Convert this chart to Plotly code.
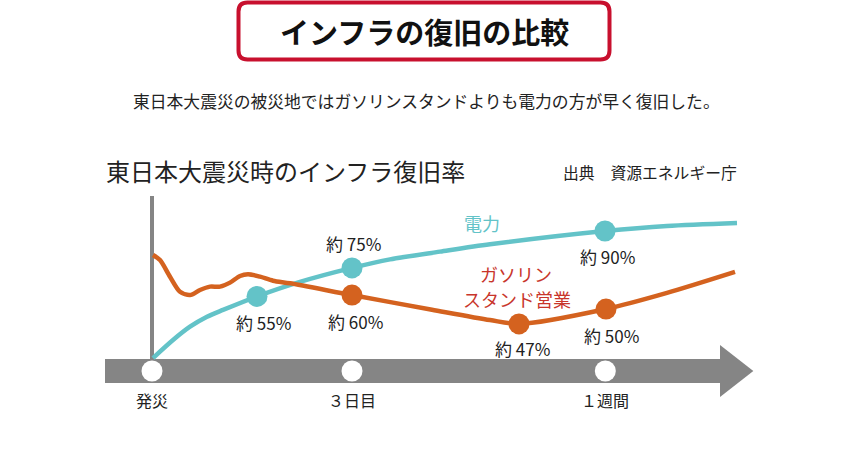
import plotly.graph_objects as go

# ---------------- data (schematic timeline) ----------------
# x: position along the time arrow in days (0 = 発災), y: drawn recovery level (schematic)
TICK_LABELS = ["発災", "３日目", "１週間"]
TICK_POS = [0, 3, 6.8]

POWER_X = [0.015, 0.315, 0.57, 0.825, 1.065, 1.575, 2.22, 3.0, 3.57, 4.32, 5.07, 6.795, 7.725, 8.775]
POWER_Y = [7.4, 17.7, 25.3, 31.0, 34.9, 42.6, 50.9, 58.9, 63.8, 68.2, 72.4, 80.0, 82.9, 84.6]
POWER_MK_X = [1.575, 3.0, 6.795]
POWER_MK_Y = [42.6, 58.9, 80.0]
POWER_LABELS = ["約 55%", "約 75%", "約 90%"]

GAS_X = [0.015, 0.12, 0.27, 0.42, 0.57, 0.72, 0.87, 1.02, 1.17, 1.32, 1.44, 1.62, 1.815,
         2.07, 3.0, 4.2, 5.07, 5.505, 6.81, 7.725, 8.745]
GAS_Y = [66.3, 63.4, 53.9, 45.3, 43.4, 46.3, 48.2, 48.2, 50.5, 54.3, 55.3, 53.9, 51.6,
         50.1, 43.4, 35.0, 29.1, 26.9, 35.4, 44.6, 56.6]
GAS_MK_X = [3.0, 5.505, 6.81]
GAS_MK_Y = [43.4, 26.9, 35.4]
GAS_LABELS = ["約 60%", "約 47%", "約 50%"]

TITLE = "インフラの復旧の比較"
SUBTITLE = "東日本大震災の被災地ではガソリンスタンドよりも電力の方が早く復旧した。"
CHART_TITLE = "東日本大震災時のインフラ復旧率"
SOURCE = "出典　資源エネルギー庁"
POWER_NAME = "電力"
GAS_NAME_LINES = ["ガソリン", "スタンド営業"]

# ---------------- styles ----------------
W, H = 860, 450
FONT = "Noto Sans CJK JP"
TEAL = "#63c3c8"
ORANGE = "#d4621f"
GAS_RED = "#c8352b"
GREY = "#858585"
CRIMSON = "#c8102e"
TXT = "#222222"

POWER_LABEL_SHIFT = [(6, -26.5), (1.5, 24), (2, -25.7)]
GAS_LABEL_SHIFT = [(3.5, -26), (3.5, -25), (5.7, -26)]

fig = go.Figure()

fig.add_trace(go.Scatter(x=POWER_X, y=POWER_Y, mode="lines",
                         line=dict(color=TEAL, width=4.5, shape="spline", smoothing=0.8),
                         hoverinfo="skip"))
fig.add_trace(go.Scatter(x=GAS_X, y=GAS_Y, mode="lines",
                         line=dict(color=ORANGE, width=4.5, shape="spline", smoothing=0.8),
                         hoverinfo="skip"))
fig.add_trace(go.Scatter(x=POWER_MK_X, y=POWER_MK_Y, mode="markers",
                         marker=dict(color=TEAL, size=21, line=dict(width=0)), hoverinfo="skip"))
fig.add_trace(go.Scatter(x=GAS_MK_X, y=GAS_MK_Y, mode="markers",
                         marker=dict(color=ORANGE, size=21, line=dict(width=0)), hoverinfo="skip"))
# white circles on the time arrow
fig.add_trace(go.Scatter(x=TICK_POS, y=[0] * len(TICK_POS), mode="markers",
                         marker=dict(color="white", size=21, line=dict(width=0)), hoverinfo="skip"))

annotations = []
for x, y, t, (dx, dy) in zip(POWER_MK_X, POWER_MK_Y, POWER_LABELS, POWER_LABEL_SHIFT):
    annotations.append(dict(x=x, y=y, xref="x", yref="y", text=t, showarrow=False,
                            xshift=dx, yshift=dy, font=dict(family=FONT, size=17, color=TXT)))
for x, y, t, (dx, dy) in zip(GAS_MK_X, GAS_MK_Y, GAS_LABELS, GAS_LABEL_SHIFT):
    annotations.append(dict(x=x, y=y, xref="x", yref="y", text=t, showarrow=False,
                            xshift=dx, yshift=dy, font=dict(family=FONT, size=17, color=TXT)))
for x, t in zip(TICK_POS, TICK_LABELS):
    annotations.append(dict(x=x, y=0, xref="x", yref="y", text=t, showarrow=False,
                            yshift=-29, font=dict(family=FONT, size=16, color=TXT)))

annotations.append(dict(x=4.95, y=84.6, xref="x", yref="y", text=POWER_NAME, showarrow=False,
                        font=dict(family=FONT, size=18, color=TEAL)))
for (gx, gy), t in zip([(5.46, 55.4), (5.475, 41.4)], GAS_NAME_LINES):
    annotations.append(dict(x=gx, y=gy, xref="x", yref="y", text=t, showarrow=False,
                            borderpad=0, font=dict(family=FONT, size=18, color=GAS_RED)))


def P(px, py):
    """pixel -> paper coordinates"""
    return px / W, 1 - py / H


def ann_px(px, py, text, size, color=TXT, xanchor="center"):
    x, y = P(px, py)
    return dict(x=x, y=y, xref="paper", yref="paper", text=text, showarrow=False,
                xanchor=xanchor, yanchor="middle", font=dict(family=FONT, size=size, color=color))


annotations.append(ann_px(424, 31, "<b>" + TITLE + "</b>", 29, "#111111"))
annotations.append(ann_px(426, 101, SUBTITLE, 16.8))
annotations.append(ann_px(104, 170, CHART_TITLE, 24, xanchor="left"))
annotations.append(ann_px(561, 172, SOURCE, 15.8, xanchor="left"))

# rounded title box
l, r, t, b, rad = 238.5, 609.5, 2.5, 59.5, 9


def pt(px, py):
    x, y = P(px, py)
    return f"{x:.5f},{y:.5f}"


box_path = (f"M {pt(l + rad, t)} L {pt(r - rad, t)} Q {pt(r, t)} {pt(r, t + rad)} "
            f"L {pt(r, b - rad)} Q {pt(r, b)} {pt(r - rad, b)} L {pt(l + rad, b)} "
            f"Q {pt(l, b)} {pt(l, b - rad)} L {pt(l, t + rad)} Q {pt(l, t)} {pt(l + rad, t)} Z")

shapes = [
    dict(type="path", xref="paper", yref="paper", path=box_path,
         line=dict(color=CRIMSON, width=4), fillcolor="white", layer="below"),
    # vertical axis line at 発災
    dict(type="line", xref="x", yref="y", x0=0, x1=0, y0=0, y1=100,
         line=dict(color=GREY, width=4), layer="below"),
    # time arrow body
    dict(type="rect", xref="x", yref="y", x0=-0.705, x1=8.53, y0=-6.86, y1=6.86,
         fillcolor=GREY, line=dict(width=0), layer="below"),
    # arrow head
    dict(type="path", xref="x", yref="y", path="M 8.52,14.9 L 9.02,0 L 8.52,-14.9 Z",
         fillcolor=GREY, line=dict(width=0), layer="below"),
]

# axes: 66.667 px per day with 発災 at x=152; 1.75 px per level unit with the arrow at y=371
fig.update_layout(
    width=W, height=H, autosize=False,
    margin=dict(l=0, r=0, t=0, b=0, pad=0),
    paper_bgcolor="white", plot_bgcolor="white",
    showlegend=False,
    xaxis=dict(range=[-2.28, 10.62], visible=False, fixedrange=True),
    yaxis=dict(range=[-45.14, 212.0], visible=False, fixedrange=True),
    annotations=annotations, shapes=shapes,
    font=dict(family=FONT),
)

# remove the default 8px body margin so the figure fills the window exactly
fig.write_html("out.html", config={"displayModeBar": False, "staticPlot": True},
               post_script="document.body.style.margin='0';")
